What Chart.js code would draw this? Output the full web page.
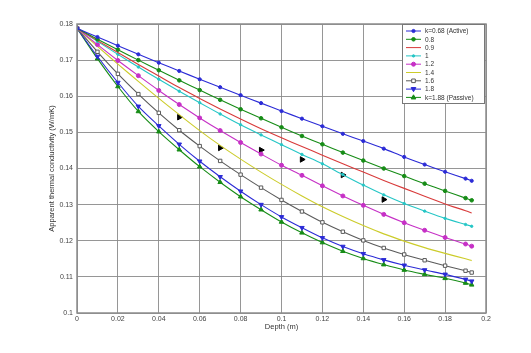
<!DOCTYPE html>
<html>
<head>
<meta charset="utf-8">
<script src="https://cdn.jsdelivr.net/npm/chart.js@4.4.0/dist/chart.umd.min.js"></script>
<style>
  body { margin: 0; background: #fff; }
  #wrap { position: relative; width: 531px; height: 353px; }
</style>
</head>
<body>
<div id="wrap"><canvas id="thermalChart"></canvas></div>
<script>
// depth (m) and apparent thermal conductivity (W/mK)
const depth = [0, 0.01, 0.02, 0.03, 0.04, 0.05, 0.06, 0.07, 0.08, 0.09, 0.10,
               0.11, 0.12, 0.13, 0.14, 0.15, 0.16, 0.17, 0.18, 0.19, 0.193];

const k068 = [0.1788, 0.1764, 0.1740, 0.1716, 0.1693, 0.1670, 0.1647, 0.1625, 0.1603, 0.1581, 0.1559,
              0.1538, 0.1517, 0.1496, 0.1476, 0.1455, 0.1432, 0.1411, 0.1391, 0.1372, 0.1366];
const k08  = [0.1788, 0.1758, 0.1729, 0.1700, 0.1672, 0.1644, 0.1617, 0.1590, 0.1564, 0.1539, 0.1514,
              0.1490, 0.1467, 0.1444, 0.1422, 0.1400, 0.1379, 0.1358, 0.1338, 0.1318, 0.1312];
const k09  = [0.1788, 0.1754, 0.1721, 0.1688, 0.1656, 0.1624, 0.1594, 0.1565, 0.1537, 0.1510, 0.1485,
              0.1461, 0.1437, 0.1413, 0.1390, 0.1367, 0.1345, 0.1323, 0.1302, 0.1283, 0.1277];
const k1   = [0.1788, 0.1752, 0.1716, 0.1681, 0.1647, 0.1614, 0.1582, 0.1551, 0.1521, 0.1493, 0.1466,
              0.1439, 0.1413, 0.1383, 0.1354, 0.1327, 0.1303, 0.1282, 0.1262, 0.1245, 0.1240];
const k12  = [0.1788, 0.1743, 0.1699, 0.1657, 0.1616, 0.1577, 0.1540, 0.1505, 0.1472, 0.1440, 0.1409,
              0.1381, 0.1352, 0.1324, 0.1298, 0.1273, 0.1250, 0.1229, 0.1209, 0.1191, 0.1185];
const k14  = [0.1788, 0.1738, 0.1689, 0.1641, 0.1594, 0.1549, 0.1505, 0.1464, 0.1426, 0.1390, 0.1356,
              0.1324, 0.1294, 0.1267, 0.1242, 0.1219, 0.1199, 0.1181, 0.1165, 0.1150, 0.1145];
const k16  = [0.1788, 0.1723, 0.1662, 0.1606, 0.1554, 0.1506, 0.1462, 0.1421, 0.1383, 0.1347, 0.1313,
              0.1281, 0.1251, 0.1225, 0.1201, 0.1180, 0.1162, 0.1146, 0.1131, 0.1117, 0.1112];
const k18  = [0.1788, 0.1710, 0.1638, 0.1572, 0.1518, 0.1467, 0.1420, 0.1377, 0.1337, 0.1300, 0.1266,
              0.1236, 0.1208, 0.1184, 0.1164, 0.1147, 0.1132, 0.1119, 0.1107, 0.1093, 0.1088];
const k188 = [0.1788, 0.1704, 0.1627, 0.1558, 0.1502, 0.1452, 0.1405, 0.1362, 0.1322, 0.1286, 0.1252,
              0.1222, 0.1195, 0.1171, 0.1151, 0.1134, 0.1119, 0.1107, 0.1096, 0.1083, 0.1078];

// separate black markers (no legend entry)
const markDepth = [0.05, 0.07, 0.09, 0.11, 0.13, 0.15];
const markVals  = [0.1542, 0.1457, 0.1451, 0.1425, 0.1382, 0.1314];

const seriesLabels = ['k=0.68 (Active)', '0.8', '0.9', '1', '1.2', '1.4', '1.6', '1.8', 'k=1.88 (Passive)'];
const xTicks = [0, 0.02, 0.04, 0.06, 0.08, 0.1, 0.12, 0.14, 0.16, 0.18, 0.2];
const yTicks = [0.1, 0.11, 0.12, 0.13, 0.14, 0.15, 0.16, 0.17, 0.18];

const toPoints = (xs, ys) => xs.map((x, i) => ({ x: x, y: ys[i] }));

function series(label, values, color, style, radius, rotation, fill) {
    return {
        label: label,
        data: toPoints(depth, values),
        borderColor: color,
        backgroundColor: fill || color,
        pointBorderColor: color,
        pointBackgroundColor: fill || color,
        borderWidth: 1.1,
        pointStyle: style,
        pointRadius: radius,
        pointBorderWidth: 1,
        pointRotation: rotation || 0,
        tension: 0.3
    };
}

const datasets = [
    series(seriesLabels[0], k068, '#2b2bd6', 'circle', 1.6),
    series(seriesLabels[1], k08, '#168c16', 'circle', 1.8),
    series(seriesLabels[2], k09, '#d83a3a', 'circle', 0),
    series(seriesLabels[3], k1, '#25c6c6', 'circle', 1.2),
    series(seriesLabels[4], k12, '#c630c6', 'circle', 2),
    series(seriesLabels[5], k14, '#cccc2a', 'circle', 0),
    series(seriesLabels[6], k16, '#5a5a5a', 'rect', 2.4, 0, '#ffffff'),
    series(seriesLabels[7], k18, '#2b2bd6', 'triangle', 2.6, 180),
    series(seriesLabels[8], k188, '#168c16', 'triangle', 2.6, 0),
    {
        label: 'marks',
        data: toPoints(markDepth, markVals),
        showLine: false,
        borderColor: '#000',
        backgroundColor: '#000',
        pointStyle: 'triangle',
        pointRotation: 90,
        pointRadius: 3.2,
        inLegend: false
    }
];

function drawMarker(ctx, ds, x, y) {
    const r = ds.pointRadius;
    if (!r) return;
    ctx.save();
    ctx.translate(x, y);
    ctx.rotate((ds.pointRotation || 0) * Math.PI / 180);
    ctx.fillStyle = ds.pointBackgroundColor;
    ctx.strokeStyle = ds.pointBorderColor;
    ctx.lineWidth = 1;
    ctx.beginPath();
    if (ds.pointStyle === 'rect') {
        ctx.rect(-r * 0.75, -r * 0.75, r * 1.5, r * 1.5);
    } else if (ds.pointStyle === 'triangle') {
        ctx.moveTo(0, -r);
        ctx.lineTo(r * 0.9, r * 0.6);
        ctx.lineTo(-r * 0.9, r * 0.6);
        ctx.closePath();
    } else {
        ctx.arc(0, 0, r, 0, Math.PI * 2);
    }
    ctx.fill();
    ctx.stroke();
    ctx.restore();
}

// frame around plot area + legend box in the upper right corner
const framePlugin = {
    id: 'frame',
    afterDatasetsDraw(chart) {
        const { ctx, chartArea: a } = chart;
        ctx.save();
        ctx.strokeStyle = '#8c8c8c';
        ctx.lineWidth = 1.5;
        ctx.strokeRect(a.left, a.top, a.right - a.left, a.bottom - a.top);

        const bx = 402, by = a.top, bw = 82, bh = 79;
        ctx.fillStyle = '#fff';
        ctx.fillRect(bx, by, bw, bh);
        ctx.strokeStyle = '#777';
        ctx.lineWidth = 1;
        ctx.strokeRect(bx + 0.5, by + 0.5, bw, bh);

        ctx.font = '6.5px "Liberation Sans", Arial, sans-serif';
        ctx.textBaseline = 'middle';
        ctx.fillStyle = '#333';
        chart.data.datasets.filter(d => d.inLegend !== false).forEach((ds, i) => {
            const y = by + 7 + i * 8.3;
            ctx.strokeStyle = ds.borderColor;
            ctx.lineWidth = 1;
            ctx.beginPath();
            ctx.moveTo(bx + 4, y);
            ctx.lineTo(bx + 19, y);
            ctx.stroke();
            drawMarker(ctx, ds, bx + 11.5, y);
            ctx.fillStyle = '#333';
            ctx.fillText(ds.label, bx + 23, y + 0.5);
        });
        ctx.restore();
    }
};

const tickFont = { family: '"Liberation Sans", Arial, sans-serif', size: 7 };
const titleFont = { family: '"Liberation Sans", Arial, sans-serif', size: 7.5 };
const fmt = v => String(Number(v.toFixed(2)));

const ctx = document.getElementById('thermalChart').getContext('2d');
const thermalChart = new Chart(ctx, {
    type: 'line',
    data: { datasets: datasets },
    options: {
        responsive: true,
        maintainAspectRatio: false,
        animation: false,
        layout: { padding: { left: 0, top: 24, right: 45, bottom: 0 } },
        plugins: {
            legend: { display: false },
            tooltip: { enabled: false }
        },
        scales: {
            x: {
                type: 'linear',
                min: 0,
                max: 0.2,
                afterFit: s => { s.height = 40; },
                afterBuildTicks: s => { s.ticks = xTicks.map(v => ({ value: v })); },
                ticks: { font: tickFont, color: '#444', padding: 2, maxRotation: 0, callback: fmt },
                grid: { color: '#8a8a8a', lineWidth: 0.9, drawTicks: false, borderDash: [1, 2] },
                border: { display: false },
                title: {
                    display: true,
                    text: 'Depth (m)',
                    font: titleFont,
                    color: '#333',
                    padding: { top: 0, bottom: 22 }
                }
            },
            y: {
                min: 0.1,
                max: 0.18,
                afterFit: s => { s.width = 77; },
                afterBuildTicks: s => { s.ticks = yTicks.map(v => ({ value: v })); },
                ticks: { font: tickFont, color: '#444', padding: 4, callback: fmt },
                grid: { color: '#8a8a8a', lineWidth: 0.9, drawTicks: false, borderDash: [1, 2] },
                border: { display: false },
                title: {
                    display: true,
                    text: 'Apparent thermal conductivity (W/mK)',
                    font: titleFont,
                    color: '#333',
                    padding: { top: 47, bottom: 0 }
                }
            }
        }
    },
    plugins: [framePlugin]
});
</script>
</body>
</html>
